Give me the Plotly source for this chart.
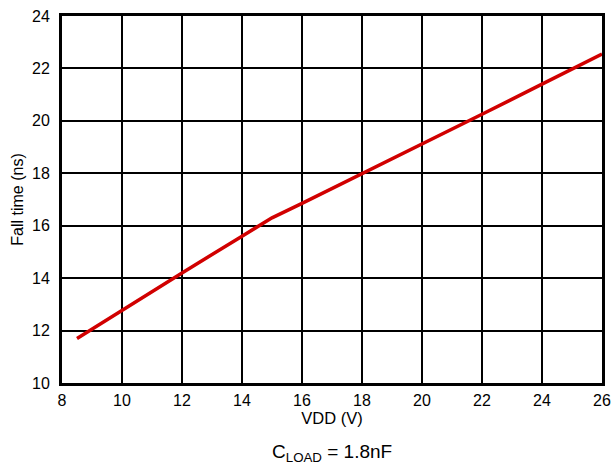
import plotly.graph_objects as go

vdd = [8.5, 10, 12, 14, 15, 16, 18, 20, 22, 24, 26]
fall_time = [11.7, 12.78, 14.2, 15.6, 16.3, 16.85, 17.98, 19.1, 20.25, 21.4, 22.55]

x_ticks = [8, 10, 12, 14, 16, 18, 20, 22, 24, 26]
y_ticks = [10, 12, 14, 16, 18, 20, 22, 24]

fig = go.Figure()
fig.add_trace(go.Scatter(x=vdd, y=fall_time, mode="lines",
                         line=dict(color="#D10000", width=3.5), showlegend=False))

font = "Liberation Sans, Arial, sans-serif"
fig.update_layout(
    width=612, height=468,
    margin=dict(l=62, r=10, t=16, b=85),
    paper_bgcolor="white", plot_bgcolor="white",
    font=dict(family=font, color="black", size=16),
    xaxis=dict(range=[8, 26], tickvals=x_ticks, showgrid=True, gridcolor="black", gridwidth=2,
               showline=True, linecolor="black", linewidth=3, mirror=True, ticks="",
               zeroline=False, automargin=False, ticklabeloverflow="allow",
               title=dict(text="VDD (V)", font=dict(size=16.5), standoff=4),
               tickfont=dict(size=16), ticklabelstandoff=1),
    yaxis=dict(range=[10, 24], tickvals=y_ticks, showgrid=True, gridcolor="black", gridwidth=2,
               showline=True, linecolor="black", linewidth=3, mirror=True, ticks="",
               zeroline=False, automargin=False, ticklabeloverflow="allow",
               title=dict(text="Fall time (ns)", font=dict(size=16), standoff=5),
               tickfont=dict(size=16), ticklabelstandoff=6),
    annotations=[dict(text="C<sub>LOAD</sub> = 1.8nF", x=0.5, y=-0.191, xref="paper", yref="paper",
                      yanchor="middle", showarrow=False, font=dict(size=19))],
)
fig.write_html("out.html", config={"displayModeBar": False},
               post_script="document.body.style.margin='0';document.body.style.overflow='hidden';")
